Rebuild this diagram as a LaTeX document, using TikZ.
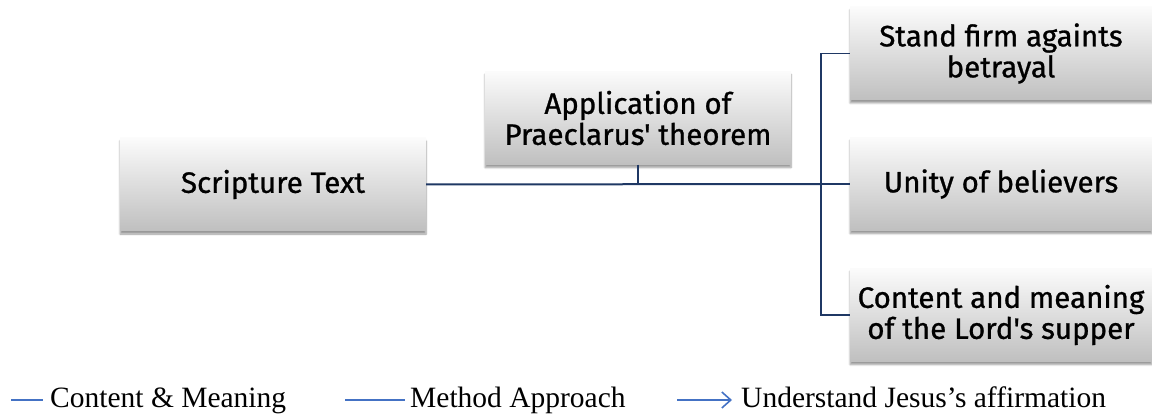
\documentclass[tikz,border=0pt]{standalone}
\usepackage{fontspec}
\setmainfont{Liberation Serif}
\newfontfamily\boxfont[FakeBold=0.9]{Fira Sans}
\usepackage{xcolor}
\usetikzlibrary{shadows.blur, arrows.meta}

\definecolor{linenavy}{HTML}{1F3864}
\definecolor{legendblue}{HTML}{4472C4}

\tikzset{
    stepbox/.style={
        rectangle, minimum width=306pt, minimum height=93pt,
        top color=gray!3, bottom color=gray!50, draw=none,
        blur shadow={shadow xshift=0pt, shadow yshift=-3pt, shadow blur steps=6, shadow opacity=40},
        align=center, inner sep=0pt, font=\boxfont\fontsize{29.5}{31}\selectfont
    },
    mainline/.style={linenavy, line width=2pt},
    branchline/.style={linenavy, line width=1.3pt},
    legendline/.style={legendblue, line width=1.6pt},
    legendtext/.style={anchor=base west, inner sep=0pt, font=\fontsize{29.5}{32}\selectfont}
}

\begin{document}
\begin{tikzpicture}[x=1pt, y=-1pt]

    % 1. Fix the picture size
    \useasboundingbox (0,0) rectangle (1152,414);

    % 2. Boxes of the diagram
    \node[stepbox] (script) at (273,184.5) {Scripture Text};
    \node[stepbox] (appl)   at (638,118)   {Application of\\Praeclarus' theorem};
    \node[stepbox, minimum width=302pt] (stand)   at (1001,53.5) {Stand firm againts\\betrayal};
    \node[stepbox, minimum width=302pt] (unity)   at (1001,184)  {Unity of believers};
    \node[stepbox, minimum width=302pt] (content) at (1001,315)  {Content and meaning\\of the Lord's supper};

    % 3. Main connector and the branch
    \coordinate (hub)  at (821,184);
    \coordinate (stub) at (appl.south |- hub);
    \coordinate (top)  at (821,53.5);
    \coordinate (bot)  at (821,315);
    \draw[mainline] (script.east) -- (hub);
    \draw[mainline] (appl.south) -- (stub);
    \draw[branchline] (hub) -- (unity.west);
    \draw[branchline] (stand.west) -- (top) -- (bot) -- (content.west);

    % 4. Legend
    \coordinate (L1a) at (11,400);  \coordinate (L1b) at (43,400);
    \coordinate (L2a) at (345,400); \coordinate (L2b) at (405,400);
    \coordinate (L3a) at (677,400); \coordinate (L3b) at (732,400);
    \draw[legendline] (L1a) -- (L1b);
    \draw[legendline] (L2a) -- (L2b);
    \draw[legendline, -{Straight Barb[length=9pt, width=16pt]}] (L3a) -- (L3b);
    \node[legendtext] (t1) at (50,407)  {Content \& Meaning};
    \node[legendtext] (t2) at (410,407) {Method Approach};
    \node[legendtext] (t3) at (741,407) {Understand Jesus’s affirmation};

\end{tikzpicture}
\end{document}
